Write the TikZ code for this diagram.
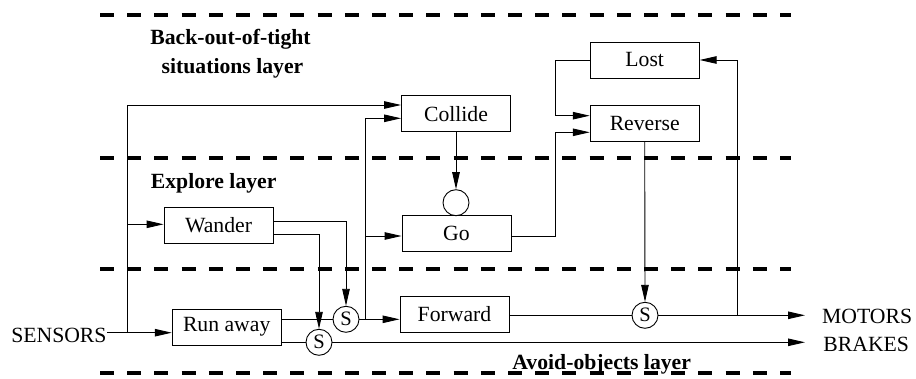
\documentclass[tikz,border=0pt]{standalone}
\usepackage{fontspec}
\setmainfont{Liberation Serif}
\usetikzlibrary{arrows.meta}
\begin{document}
\begin{tikzpicture}[x=1pt,y=-1pt,
  line width=0.9pt,
  every node/.style={font=\fontsize{21.7}{26}\selectfont},
  box/.style={draw, rectangle, minimum width=109pt, minimum height=36pt, inner sep=0pt},
  sw/.style={draw, circle, minimum size=26pt, inner sep=0pt, font=\fontsize{20.5}{22}\selectfont},
  arr/.style={-{Triangle[length=17pt,width=7.5pt]}},
  layerline/.style={line width=4pt, dash pattern=on 14pt off 13.2pt},
  lbl/.style={inner sep=0pt, font=\fontsize{21.7}{26}\selectfont\bfseries},
  plain/.style={inner sep=0pt}
]
\useasboundingbox (0,0) rectangle (916,379);

% layer separators
\draw[layerline] (100,15) -- (790.7,15);
\draw[layerline] (100,158.3) -- (790.7,158.3);
\draw[layerline] (100,269) -- (790.7,269);
\draw[layerline] (100,373.3) -- (790.7,373.3);

% layer labels
\node[lbl, anchor=base] (lb1) at (230.5,45) {Back-out-of-tight};
\node[lbl, anchor=base] (lb2) at (232.5,74) {situations layer};
\node[lbl, anchor=base] (lb3) at (213.7,189) {Explore layer};
\node[lbl, anchor=base] (lb4) at (601.7,369.3) {Avoid-objects layer};

% boxes
\node[box] (collide) at (456,113.7) {Collide};
\node[box] (lost) at (644.7,60) {Lost};
\node[box] (reverse) at (644.7,123.3) {Reverse};
\node[box] (go) at (456.5,233.7) {Go};
\node[box] (wander) at (218.5,225.3) {Wander};
\node[box] (runaway) at (226.7,327.2) {Run away};
\node[box] (forward) at (454.5,314.2) {Forward};

% circles
\node[sw] (gc) at (456,202.7) {};
\node[sw] (s1) at (346,319.3) {S};
\node[sw] (s2) at (319,342.3) {S};
\node[sw] (s3) at (645,315.3) {S};

% outer texts
\node[plain, anchor=base east] (sensors) at (107,342.3) {SENSORS};
\node[plain, anchor=base west] (motors) at (821.7,323.3) {MOTORS};
\node[plain, anchor=base west] (brakes) at (823,351.7) {BRAKES};

% helper coordinates
\coordinate (tb) at (127.7,332.7);
\coordinate (tt) at (127.7,105);
\coordinate (vx) at (365,118.3);
\coordinate (rv1) at (555.5,115.7);
\coordinate (rv2) at (555.5,132.3);
\coordinate (fb) at (737,315.3);
\coordinate (motin) at (805,315.3);
\coordinate (brkin) at (805,342.3);

% sensors trunk
\draw[arr] (sensors.east |- tb) -- (tb -| runaway.west);
\draw (tb) -- (tt);
\draw[arr] (tt) -- (tt -| collide.west);
\draw[arr] ([yshift=1pt]wander.west -| tt) -- ([yshift=1pt]wander.west);

% wander outputs
\draw[arr] ([yshift=3.6pt]wander.east) -| (s1.north);
\draw[arr] ([yshift=-9pt]wander.east) -| (s2.north);

% run away outputs
\draw (s1.west -| runaway.east) -- (s1.west);
\draw (s2.west -| runaway.east) -- (s2.west);

% s1 output
\draw[arr] (s1.east) -- (s1.east -| forward.west);
\draw[arr] (s1.east -| vx) -- (vx) -- (vx -| collide.west);
\draw[arr] ([yshift=-2.3pt]go.west -| vx) -- ([yshift=-2.3pt]go.west);

% collide to go inhibitor
\draw[arr] (collide.south) -- (gc.north);

% go and lost to reverse
\draw[arr] ([yshift=-3pt]go.east) -| (rv2) -- (rv2 -| reverse.west);
\draw[arr] (lost.west) -| (rv1) -- (rv1 -| reverse.west);

% reverse to s3
\draw[arr] (reverse.south) -- (s3.north);

% forward to s3
\draw (forward.east |- s3.west) -- (s3.west);

% outputs
\draw[arr] (s3.east) -- (motin);
\draw[arr] (fb) |- (lost.east);
\draw[arr] (s2.east) -- (brkin);
\end{tikzpicture}
\end{document}
